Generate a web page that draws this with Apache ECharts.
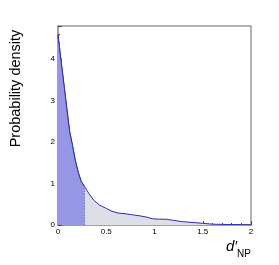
<!DOCTYPE html>
<html><head><meta charset="utf-8">
<script src="https://cdn.jsdelivr.net/npm/echarts@6/dist/echarts.min.js"></script>
<style>html,body{margin:0;padding:0;background:#fff}#c{width:279px;height:265px}</style>
</head><body><div id="c"></div>
<script>
const dValues = [0, 0.04, 0.08, 0.12, 0.15, 0.18, 0.21, 0.24, 0.275, 0.32, 0.37, 0.43, 0.5, 0.56, 0.62, 0.7, 0.76, 0.85, 0.92, 0.98, 1.05, 1.12, 1.2, 1.29, 1.4, 1.5, 1.6, 1.7, 1.8, 1.9, 2.0];
const density = [4.58, 3.8, 3.03, 2.26, 1.92, 1.55, 1.27, 1.05, 0.93, 0.76, 0.6, 0.48, 0.4, 0.33, 0.29, 0.27, 0.25, 0.22, 0.19, 0.15, 0.14, 0.14, 0.11, 0.08, 0.06, 0.04, 0.02, 0.015, 0.01, 0.01, 0.005];
const cutoff = 0.275;
const xTicks = [0, 0.5, 1, 1.5, 2];
const yTicks = [0, 1, 2, 3, 4];

const full = dValues.map((x, i) => [x, density[i]]);
const shaded = full.filter(p => p[0] <= cutoff);
const cutY = density[dValues.indexOf(cutoff)];

const chart = echarts.init(document.getElementById('c'));
const tickFont = {fontFamily: 'Liberation Sans, Arial, sans-serif', fontSize: 8, color: '#000'};
chart.setOption({
  animation: false,
  grid: {left: 56, right: 28, top: 26, bottom: 40, show: true, borderColor: '#9a9a9a', borderWidth: 1.5},
  xAxis: {
    type: 'value', min: 0, max: 2, interval: 0.5,
    axisLine: {show: true, lineStyle: {color: '#9a9a9a', width: 1.5}},
    axisTick: {show: true, inside: true, length: 4, lineStyle: {color: '#444'}},
    minorTick: {show: true, splitNumber: 5, length: 2, lineStyle: {color: '#444'}},
    splitLine: {show: false},
    axisLabel: Object.assign({margin: 3, formatter: v => xTicks.includes(v) ? String(v) : ''}, tickFont),
    name: '{d|d\u2032}{s|NP}', nameLocation: 'end', nameGap: 0,
    nameTextStyle: {
      padding: [0, 0, 0, 0], verticalAlign: 'top', align: 'right',
      rich: {
        d: {fontFamily: 'Liberation Sans, Arial, sans-serif', fontStyle: 'italic', fontSize: 15, color: '#000', verticalAlign: 'top', padding: [14, 0, 0, 0]},
        s: {fontFamily: 'Liberation Sans, Arial, sans-serif', fontSize: 10, color: '#000', padding: [24, 0, 0, 0]}
      }
    }
  },
  yAxis: {
    type: 'value', min: 0, max: 4.8, interval: 1,
    axisLine: {show: true, lineStyle: {color: '#9a9a9a', width: 1.5}},
    axisTick: {show: true, inside: true, length: 4, lineStyle: {color: '#444'}},
    minorTick: {show: true, splitNumber: 5, length: 2, lineStyle: {color: '#444'}},
    splitLine: {show: false},
    axisLabel: Object.assign({margin: 3, formatter: v => yTicks.includes(v) ? String(v) : ''}, tickFont),
    name: 'Probability density', nameLocation: 'middle', nameGap: 35, nameRotate: 90,
    nameTextStyle: {fontFamily: 'Liberation Sans, Arial, sans-serif', fontSize: 14.5, color: '#000', padding: [0, 0, 0, 74]}
  },
  series: [
    {type: 'line', data: full, symbol: 'none', z: 2,
     lineStyle: {color: '#2b2bb0', width: 1},
     areaStyle: {color: '#dedee9', opacity: 1}},
    {type: 'line', data: shaded, symbol: 'none', z: 3,
     lineStyle: {color: '#2b2bb0', width: 1},
     areaStyle: {color: '#9696e6', opacity: 1}},
    {type: 'line', data: [[cutoff, 0], [cutoff, cutY]], symbol: 'none', z: 4,
     lineStyle: {color: '#5a5ad0', width: 0.8, type: [1.5, 1.5]}}
  ]
});
</script></body></html>
